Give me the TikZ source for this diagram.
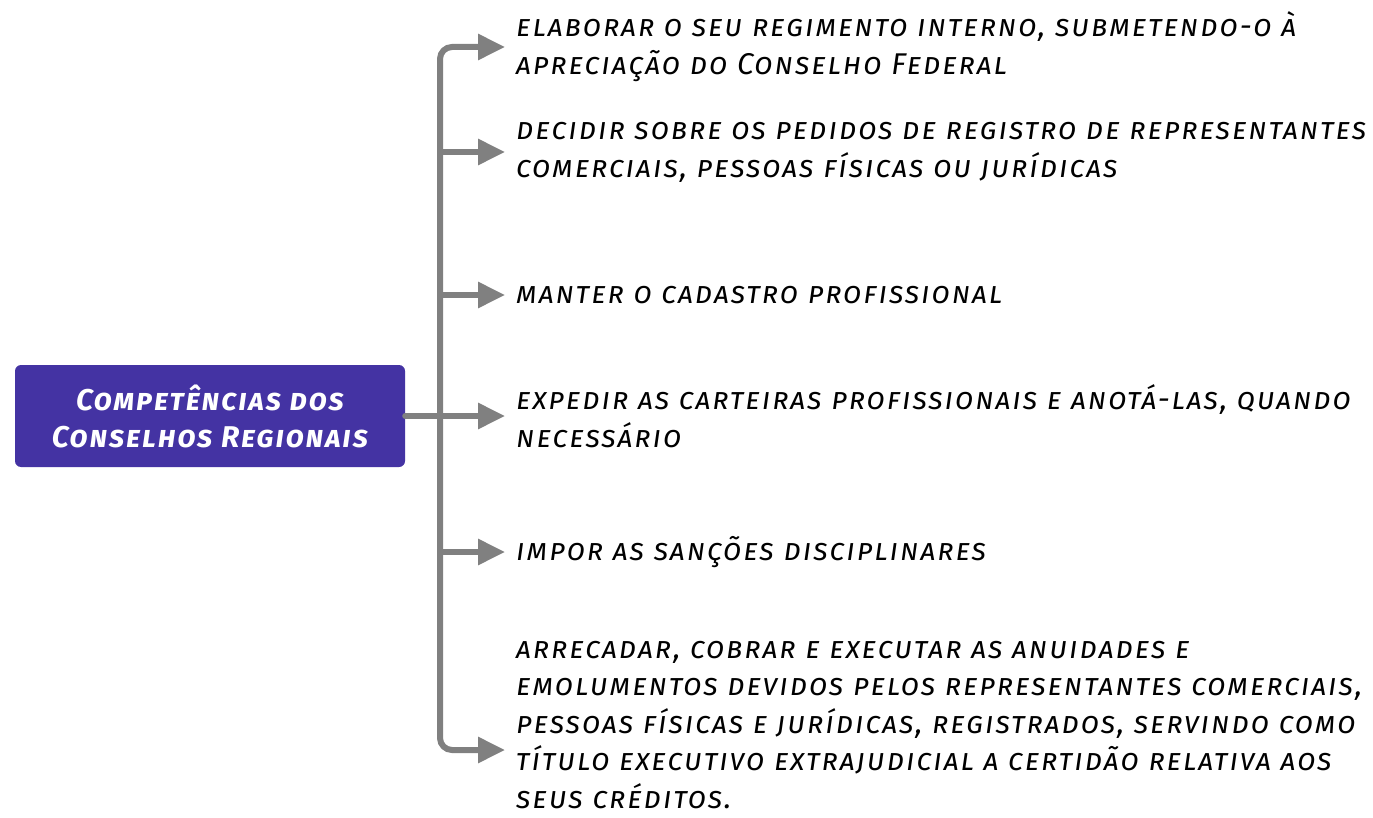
\documentclass[tikz,border=0pt]{standalone}
\usepackage{fontspec}
\setmainfont{Fira Sans}
\newfontfamily\handfont[LetterSpace=6]{Fira Sans}
\usetikzlibrary{arrows.meta}

\definecolor{hubpurple}{RGB}{68,51,163}
\definecolor{linkgray}{RGB}{128,128,128}

\tikzset{
  link/.style={draw=linkgray, line width=6pt, line cap=round},
  arr/.style={link, -{Triangle[length=27pt,width=25pt]}},
  txt/.style={anchor=west, align=left, inner sep=0pt,
    font=\handfont\fontsize{30}{38}\selectfont\itshape\scshape},
  hub/.style={fill=hubpurple, text=white, rounded corners=6pt,
    minimum width=390pt, minimum height=102pt, align=center,
    font=\handfont\fontsize{30}{37}\selectfont\bfseries\itshape\scshape}
}

\begin{document}
\begin{tikzpicture}[x=1pt,y=-1pt]
\useasboundingbox (0,0) rectangle (1373,818);

% Define nodes
\node[hub] (hub) at (210,416) {Competências dos\\Conselhos Regionais};
\node[txt] (t1) at (516,47) {elaborar o seu regimento interno, submetendo-o à\\apreciação do Conselho Federal};
\node[txt] (t2) at (516,152) {decidir sobre os pedidos de registro de representantes\\comerciais, pessoas físicas ou jurídicas};
\node[txt] (t3) at (516,295) {manter o cadastro profissional};
\node[txt] (t4) at (516,416) {expedir as carteiras profissionais e anotá-las, quando\\necessário};
\node[txt] (t5) at (516,552) {impor as sanções disciplinares};
\node[txt, font=\handfont\fontsize{30}{37.5}\selectfont\itshape\scshape] (t6) at (516,725) {arrecadar, cobrar e executar as anuidades e\\emolumentos devidos pelos representantes comerciais,\\pessoas físicas e jurídicas, registrados, servindo como\\título executivo extrajudicial a certidão relativa aos\\seus créditos.};

\coordinate (fork) at (440,416);
\coordinate (e6) at (505,750);

% Connect the nodes
\draw[link] (hub.east) -- (fork);
\draw[arr, rounded corners=12pt] (fork) |- ([xshift=-11pt]t1.west);
\draw[arr, rounded corners=12pt] (fork) |- (e6);
\foreach \t in {t2,t3,t4,t5}
  \draw[arr] (fork |- \t.west) -- ([xshift=-11pt]\t.west);

\end{tikzpicture}
\end{document}
